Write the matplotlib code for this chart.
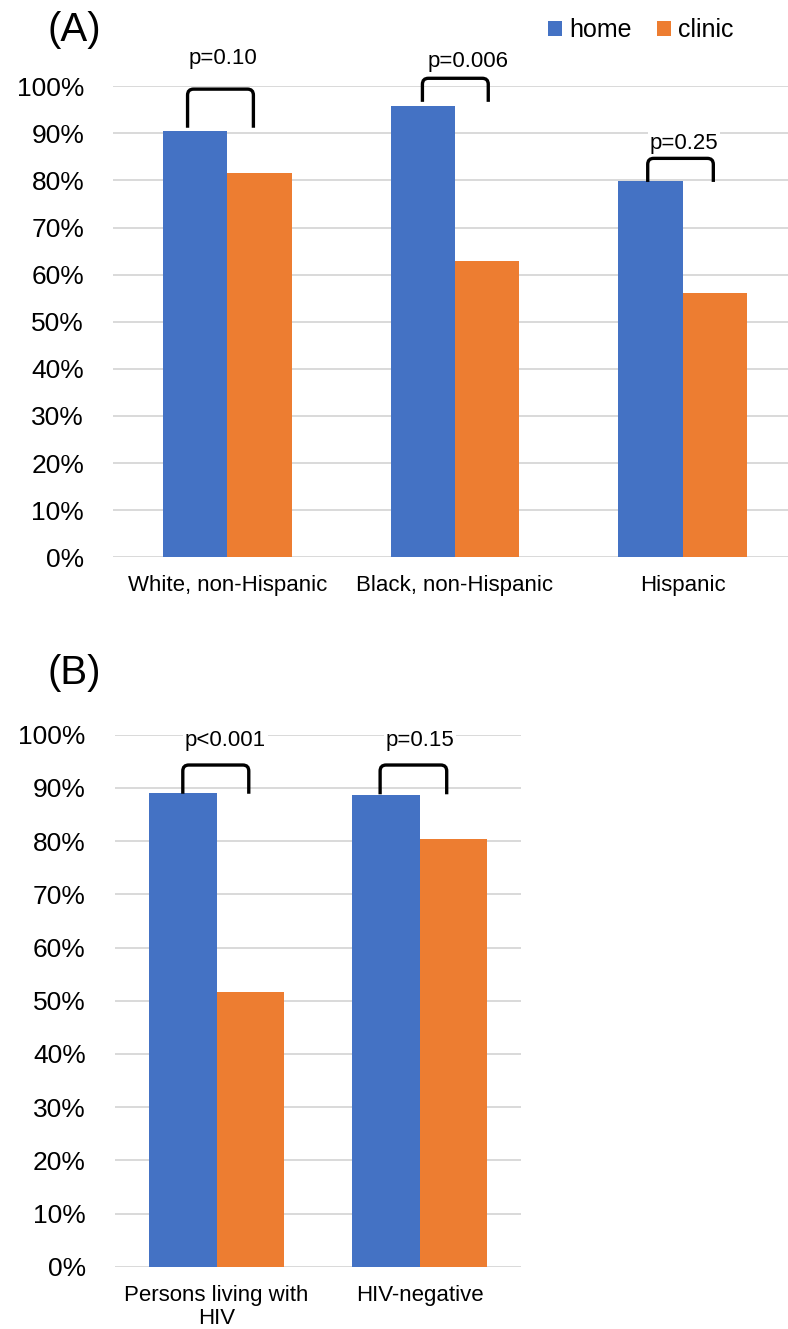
import numpy as np
import matplotlib.pyplot as plt
from matplotlib.path import Path
from matplotlib.patches import PathPatch, Patch
from matplotlib.ticker import FuncFormatter

plt.rcParams['font.family'] = ['Liberation Sans', 'DejaVu Sans']

# -----------------------------
# Datos
# -----------------------------
groups_a = ["White, non-Hispanic", "Black, non-Hispanic", "Hispanic"]
home_a = [90.6, 95.9, 79.8]
clinic_a = [81.6, 63.0, 56.1]
pvals_a = ["p=0.10", "p=0.006", "p=0.25"]

groups_b = ["Persons living with\nHIV", "HIV-negative"]
home_b = [89.1, 88.6]
clinic_b = [51.6, 80.4]
pvals_b = ["p<0.001", "p=0.15"]

series = ["home", "clinic"]
colors = ["#4472C4", "#ED7D31"]
yticks = np.arange(0, 101, 10)

W, H = 788, 1329
fig = plt.figure(figsize=(W / 100, H / 100), dpi=100)


def px_axes(left, right, top, bottom):
    return fig.add_axes([left / W, 1 - bottom / H, (right - left) / W, (bottom - top) / H])


def setup(ax, groups, ncat):
    ax.set_xlim(-0.5, ncat - 0.5)
    ax.set_ylim(0, 100)
    ax.set_yticks(yticks)
    ax.yaxis.set_major_formatter(FuncFormatter(lambda v, _: f"{v:.0f}%"))
    ax.set_xticks(np.arange(ncat))
    ax.set_xticklabels(groups, fontsize=16, linespacing=1.15)
    ax.tick_params(axis='y', length=0, pad=21, labelsize=19)
    ax.tick_params(axis='x', length=0, pad=13)
    for s in ax.spines.values():
        s.set_visible(False)
    ax.grid(axis='y', color='#d9d9d9', lw=1.4)
    ax.set_axisbelow(True)


def bracket(ax, x1, x2, ybot, ytop, r_px=6):
    # corchete con esquinas redondeadas
    inv = ax.transData.inverted()
    p0 = inv.transform((0, 0))
    p1 = inv.transform((r_px, r_px))
    rx, ry = p1[0] - p0[0], p1[1] - p0[1]
    verts = [(x1, ybot), (x1, ytop - ry), (x1, ytop), (x1 + rx, ytop),
             (x2 - rx, ytop), (x2, ytop), (x2, ytop - ry), (x2, ybot)]
    codes = [Path.MOVETO, Path.LINETO, Path.CURVE3, Path.CURVE3,
             Path.LINETO, Path.CURVE3, Path.CURVE3, Path.LINETO]
    ax.add_patch(PathPatch(Path(verts, codes), fill=False, lw=2.4,
                           edgecolor='black', capstyle='butt', clip_on=False, zorder=4))


# -----------------------------
# Panel A
# -----------------------------
axA = px_axes(113.3, 796.7, 86.3, 557.3)
setup(axA, groups_a, len(groups_a))
xa = np.arange(len(groups_a))
wa = 0.283
axA.bar(xa - wa / 2, home_a, wa, color=colors[0], zorder=2)
axA.bar(xa + wa / 2, clinic_a, wa, color=colors[1], zorder=2)

br_a = [(-0.174, 0.115, 91.2, 99.4, -0.018, 105.9),
        (-0.143, 0.146, 96.7, 101.7, 0.058, 105.2),
        (-0.154, 0.134, 79.7, 84.7, 0.006, 87.9)]
for i, (l, r, yb, yt, tx, ty) in enumerate(br_a):
    bracket(axA, i + l, i + r, yb, yt)
    axA.text(i + tx, ty, pvals_a[i], ha='center', va='center', fontsize=16, zorder=3,
             clip_on=False, bbox=dict(facecolor='white', edgecolor='none', pad=1.5))

# -----------------------------
# Panel B
# -----------------------------
axB = px_axes(115, 521, 734.7, 1266.7)
setup(axB, groups_b, len(groups_b))
xb = np.arange(len(groups_b))
wb = 0.332
axB.bar(xb - wb / 2, home_b, wb, color=colors[0], zorder=2)
axB.bar(xb + wb / 2, clinic_b, wb, color=colors[1], zorder=2)

br_b = [(-0.166, 0.159, 88.9, 94.3, 0.044, 98.9),
        (-0.194, 0.134, 88.8, 94.3, 0.002, 98.9)]
for i, (l, r, yb, yt, tx, ty) in enumerate(br_b):
    bracket(axB, i + l, i + r, yb, yt)
    axB.text(i + tx, ty, pvals_b[i], ha='center', va='center', fontsize=16, zorder=3,
             clip_on=False, bbox=dict(facecolor='white', edgecolor='none', pad=1.5))

# etiquetas de panel
fig.text(47 / W, 1 - 30 / H, "(A)", fontsize=29, ha='left', va='center')
fig.text(47 / W, 1 - 673 / H, "(B)", fontsize=29, ha='left', va='center')

# leyenda
handles = [Patch(facecolor=c, edgecolor='none') for c in colors]
fig.legend(handles, series, loc='center left', bbox_to_anchor=(548 / W, 1 - 30 / H),
           ncol=2, frameon=False, fontsize=18, handlelength=0.55, handleheight=0.55,
           handletextpad=0.3, columnspacing=1.0, borderpad=0, borderaxespad=0)

fig.savefig("out.png", dpi=100)
